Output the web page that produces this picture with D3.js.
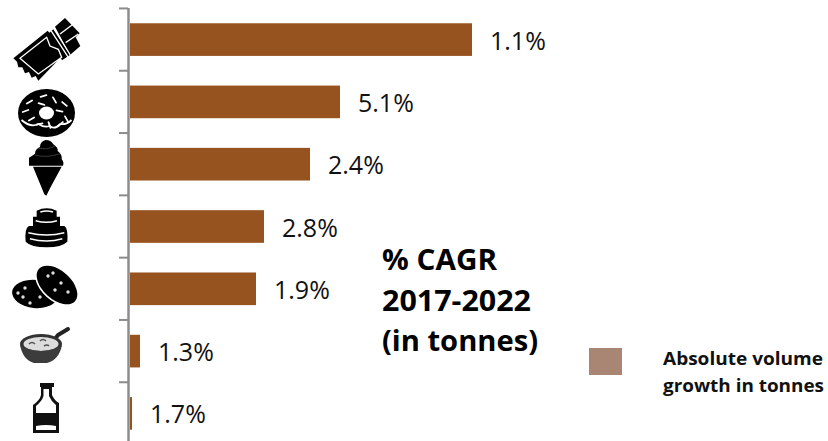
<!DOCTYPE html>
<html>
<head>
<meta charset="utf-8">
<script src="https://cdn.jsdelivr.net/npm/d3@7"></script>
<style>
html,body{margin:0;padding:0;background:#fff}
svg{display:block}
</style>
</head>
<body>
<svg id="chart" width="828" height="441"></svg>
<script>
// Snack categories, volume growth in thousand tonnes, and CAGR labels
const categories = ["Chocolate", "Doughnuts", "Ice cream", "Cakes", "Biscuits", "Cereal", "Sauces"];
const volumeGrowth = [342, 210, 180, 134, 126, 10, 2];
const cagrLabels = ["1.1%", "5.1%", "2.4%", "2.8%", "1.9%", "1.3%", "1.7%"];
const noteLines = ["% CAGR", "2017-2022", "(in tonnes)"];
const noteWidths = [115, 149, 156];
const legendLines = ["Absolute volume", "growth in tonnes"];
const legendWidths = [160, 161];

const barColor = "#97531f";
const legendColor = "#a98673";
const axisColor = "#8c8c8c";
const ink = "#000";

const svg = d3.select("#chart");
const y = d3.scaleBand().domain(categories).range([8, 445]).paddingInner(0.476).paddingOuter(0.245);
const x = d3.scaleLinear().domain([0, 342]).range([130, 472]);

// Category axis: a grey spine with ticks on the band boundaries
const step = y.step();
const boundaries = categories.map((c, i) => y(c) - y.paddingInner() * step / 2);
svg.append("line").attr("x1", 128.5).attr("x2", 128.5).attr("y1", 8).attr("y2", 441)
  .attr("stroke", axisColor).attr("stroke-width", 2.5);
svg.selectAll("line.tick").data(boundaries).join("line").attr("class", "tick")
  .attr("x1", 119).attr("x2", 128).attr("y1", d => d).attr("y2", d => d)
  .attr("stroke", axisColor).attr("stroke-width", 2);

// Bars
svg.selectAll("rect.bar").data(categories).join("rect").attr("class", "bar")
  .attr("x", x(0)).attr("y", d => y(d))
  .attr("width", (d, i) => x(volumeGrowth[i]) - x(0))
  .attr("height", y.bandwidth())
  .attr("fill", barColor);

// Value labels
svg.selectAll("text.val").data(categories).join("text").attr("class", "val")
  .attr("x", (d, i) => x(volumeGrowth[i]) + 18)
  .attr("y", d => y(d) + y.bandwidth() / 2 + 10)
  .attr("font-family", "Open Sans, sans-serif").attr("font-size", 25).attr("fill", "#111")
  .text((d, i) => cagrLabels[i]);

// Side note
svg.append("g").selectAll("text").data(noteLines).join("text")
  .attr("x", 382).attr("y", (d, i) => 270 + i * 40.5)
  .attr("font-family", "Open Sans, sans-serif").attr("font-weight", 700)
  .attr("font-size", 28).attr("fill", ink)
  .attr("textLength", (d, i) => noteWidths[i]).attr("lengthAdjust", "spacingAndGlyphs")
  .text(d => d);

// Legend
svg.append("rect").attr("x", 589).attr("y", 348).attr("width", 33).attr("height", 27).attr("fill", legendColor);
svg.append("g").selectAll("text").data(legendLines).join("text")
  .attr("x", 663).attr("y", (d, i) => 365 + i * 27)
  .attr("font-family", "Open Sans, sans-serif").attr("font-weight", 700)
  .attr("font-size", 17).attr("fill", "#111")
  .attr("textLength", (d, i) => legendWidths[i]).attr("lengthAdjust", "spacingAndGlyphs")
  .text(d => d);

// Pictograms, one per category, each drawn in its own small coordinate frame
const icons = {
  Chocolate(g) {
    g.attr("transform", "translate(5,10) scale(0.3333)");
    g.append("path").attr("fill", ink)
      .attr("d", "M25,145 L128,62 L133,68 L145,58 L195,135 L172,150 L165,145 L100,212 L92,198 L80,203 L72,186 L60,190 L52,172 L40,172 L36,155 Z");
    g.append("path").attr("fill", "none").attr("stroke", "#fff").attr("stroke-width", 4)
      .attr("d", "M45,145 L125,82 L135,108 L160,118 L170,142 L100,192 Z");
    g.append("path").attr("fill", "none").attr("stroke", "#fff").attr("stroke-width", 4)
      .attr("d", "M138,62 L190,142");
    g.append("path").attr("fill", ink)
      .attr("d", "M150,50 L180,24 L224,70 L212,82 L226,108 L195,135 Z");
    g.append("path").attr("fill", "none").attr("stroke", "#fff").attr("stroke-width", 4)
      .attr("d", "M165,72 L208,40 M182,98 L220,72 M147,55 L196,135");
  },
  Doughnuts(g) {
    g.attr("transform", "translate(46.5,113)");
    g.append("ellipse").attr("rx", 28.5).attr("ry", 24).attr("fill", ink);
    g.append("path").attr("fill", "none").attr("stroke", "#fff").attr("stroke-width", 1.8)
      .attr("d", "M-25,7 Q-16,15 -8,11 Q-2,15 3,13 Q8,17 14,11 Q20,12 25,7");
    g.append("ellipse").attr("rx", 7.5).attr("ry", 6.5).attr("fill", "#fff");
    const sprinkles = [[-17,-11,-30],[-3,-17,-15],[8,-13,60],[18,-9,40],[-21,-2,-20],[-15,6,-30],[-5,-9,15],[13,-2,10],[20,6,60],[14,11,-40],[3,12,70],[-7,11,-10]];
    g.append("g").selectAll("line").data(sprinkles).join("line")
      .attr("transform", d => `translate(${d[0]},${d[1]}) rotate(${d[2]})`)
      .attr("x1", -3).attr("x2", 3).attr("stroke", "#fff").attr("stroke-width", 1.8).attr("stroke-linecap", "round");
  },
  "Ice cream"(g) {
    g.attr("transform", "translate(5,85) scale(0.3333)");
    g.append("path").attr("fill", ink)
      .attr("d", "M122,165 Q138,165 145,178 Q160,188 158,198 Q172,208 170,222 Q178,232 174,242 L72,242 L72,218 Q85,210 90,206 Q90,192 105,186 Q105,170 122,165 Z");
    g.append("path").attr("fill", ink)
      .attr("d", "M84,245 L170,245 L135,310 L124,332 L118,328 Z");
    g.append("path").attr("fill", "none").attr("stroke", "#555").attr("stroke-width", 2)
      .attr("d", "M100,190 Q125,196 150,184 M90,210 Q125,220 165,206");
  },
  Cakes(g) {
    g.attr("transform", "translate(5,200) scale(0.3333)");
    g.append("path").attr("fill", ink)
      .attr("d", "M95,32 Q125,18 155,32 V50 H165 V78 H178 Q190,85 187,125 Q170,142 125,142 Q78,142 62,125 Q58,85 72,78 H84 V50 H95 Z");
    g.append("path").attr("fill", "none").attr("stroke", "#fff").attr("stroke-width", 4.5)
      .attr("d", "M106,36 Q125,30 144,36 M92,62 Q125,72 156,62 M70,98 Q125,112 178,98 M75,116 Q125,130 172,116");
  },
  Biscuits(g) {
    g.attr("transform", "translate(44,289)");
    g.append("ellipse").attr("cx", -9).attr("cy", 5).attr("rx", 23).attr("ry", 14).attr("transform", "rotate(6 -9 5)").attr("fill", ink);
    g.append("ellipse").attr("cx", 13).attr("cy", -4).attr("rx", 25).attr("ry", 15).attr("transform", "rotate(42 13 -4)")
      .attr("fill", ink).attr("stroke", "#fff").attr("stroke-width", 1.6);
    const crumbs = [[-19,-1],[-21,8],[-4,8],[-14,14],[4,-13],[17,-6],[11,1],[24,3],[-26,4],[9,-16]];
    g.append("g").selectAll("circle").data(crumbs).join("circle")
      .attr("cx", d => d[0]).attr("cy", d => d[1]).attr("r", 1.7).attr("fill", "#ddd");
  },
  Cereal(g) {
    g.attr("transform", "translate(41,347)");
    g.append("path").attr("fill", "none").attr("stroke", "#222").attr("stroke-width", 4).attr("stroke-linecap", "round")
      .attr("d", "M10,-3 L17,-12 L27,-18");
    g.append("ellipse").attr("cy", -3).attr("rx", 21).attr("ry", 10).attr("fill", "#333");
    g.append("ellipse").attr("cy", -3).attr("rx", 17.5).attr("ry", 7).attr("fill", "#ddd");
    g.append("path").attr("fill", "#3c3c3c").attr("d", "M-21,-2 Q-16,3 0,4 Q16,3 21,-2 Q18,13 6,16 H-7 Q-18,13 -21,-2 Z");
    g.append("path").attr("fill", "none").attr("stroke", "#555").attr("stroke-width", 1.6)
      .attr("d", "M-12,-3 q3,-3 6,0 M-1,-6 q3,-3 6,0 M3,-1 q3,-2 5,0");
  },
  Sauces(g) {
    g.attr("transform", "translate(46,408)");
    g.append("path").attr("fill", "#111")
      .attr("d", "M-6,-25 H8 V-21 H6 V-13 Q8,-8 13,-5 V25 H-13 V-3 Q-6,-8 -5,-13 V-21 H-6 Z");
    g.append("path").attr("fill", "#fff")
      .attr("d", "M-2.5,-19 H3 V-12 Q5,-7 10,-3 V5 H-10 V-2 Q-4,-7 -2.5,-12 Z M-10,18 Q0,16 10,18 V22 H-10 Z");
  }
};
categories.forEach(c => icons[c](svg.append("g").attr("class", "icon")));
</script>
</body>
</html>
